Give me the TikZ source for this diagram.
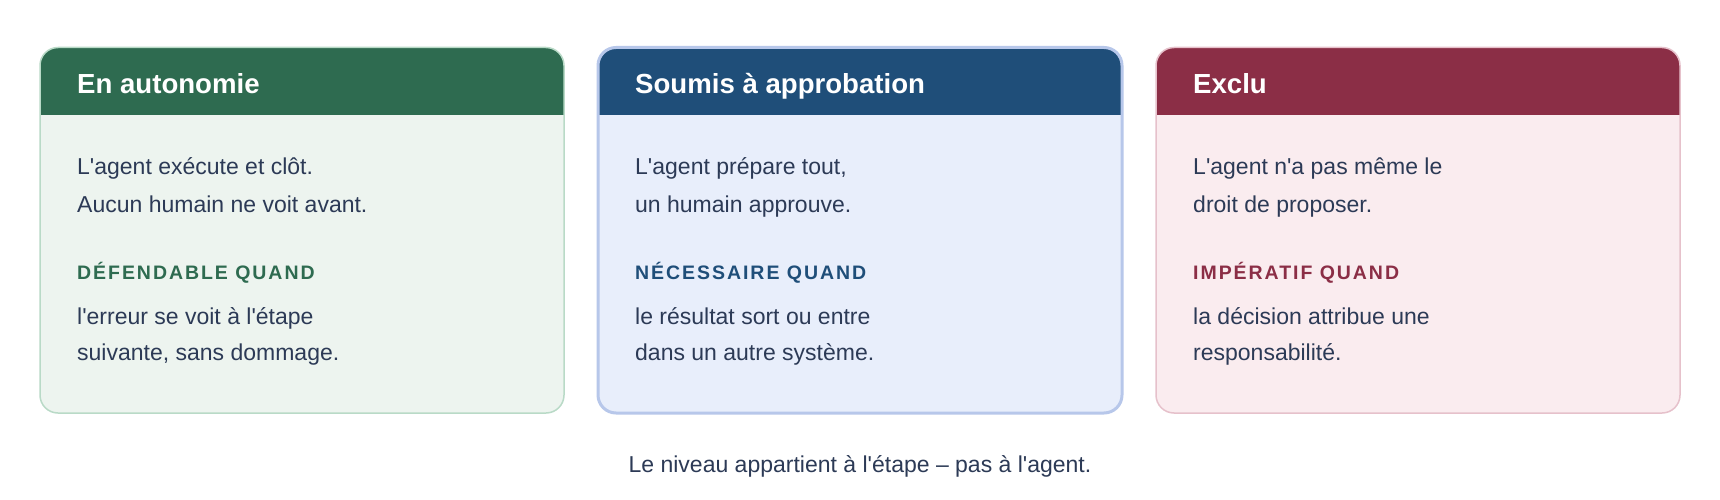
\documentclass[tikz,border=0pt]{standalone}
\usepackage{fontspec}
\setmainfont{Liberation Sans}[Ligatures=TeXOff]
\newfontfamily\labelfont[LetterSpace=10,Ligatures=TeXOff]{Liberation Sans}
\definecolor{txt}{HTML}{2C3A56}
\definecolor{ghead}{HTML}{2E6B50}
\definecolor{gfill}{HTML}{EDF4EF}
\definecolor{gline}{HTML}{B9DAC7}
\definecolor{bhead}{HTML}{1F4E79}
\definecolor{bfill}{HTML}{E8EEFB}
\definecolor{bline}{HTML}{B7C7EA}
\definecolor{rhead}{HTML}{8B2E46}
\definecolor{rfill}{HTML}{FAECEF}
\definecolor{rline}{HTML}{E6C1CB}
\tikzset{
  title/.style={anchor=base west, inner sep=0pt, text=white, font=\fontsize{27.6}{27.6}\selectfont\bfseries},
  body/.style={anchor=base west, inner sep=0pt, text=txt, font=\fontsize{23}{23}\selectfont},
  lbl/.style={anchor=base west, inner sep=0pt, font=\fontsize{19.5}{19.5}\selectfont\labelfont\bfseries},
  foot/.style={anchor=base, inner sep=0pt, text=txt, font=\fontsize{23}{23}\selectfont},
}
\newcommand{\drawcard}[5]{%
  \begin{scope}
    \clip[rounded corners=18pt] (#1,47.5) rectangle (#1+524,413);
    \fill[#2] (#1,47.5) rectangle (#1+524,413);
    \fill[#3] (#1,47.5) rectangle (#1+524,115);
  \end{scope}
  \draw[#4, line width=#5, rounded corners=18pt] (#1,47.5) rectangle (#1+524,413);
}
\begin{document}
\begin{tikzpicture}[x=1pt,y=-1pt]
\useasboundingbox (0,0) rectangle (1720,500);
\fill[white] (0,0) rectangle (1720,500);
% card 1
\drawcard{40}{gfill}{ghead}{gline}{1.5pt}
\node[title] (t1) at (77,93.3) {En autonomie};
\node[body] (a1) at (77,174.5) {L'agent exécute et clôt.};
\node[body] (b1) at (77,212) {Aucun humain ne voit avant.};
\node[lbl, text=ghead] (l1) at (77,279.5) {DÉFENDABLE QUAND};
\node[body] (c1) at (77,324.5) {l'erreur se voit à l'étape};
\node[body] (d1) at (77,360.5) {suivante, sans dommage.};
% card 2
\drawcard{598}{bfill}{bhead}{bline}{3pt}
\node[title] (t2) at (635,93.3) {Soumis à approbation};
\node[body] (a2) at (635,174.5) {L'agent prépare tout,};
\node[body] (b2) at (635,212) {un humain approuve.};
\node[lbl, text=bhead] (l2) at (635,279.5) {NÉCESSAIRE QUAND};
\node[body] (c2) at (635,324.5) {le résultat sort ou entre};
\node[body] (d2) at (635,360.5) {dans un autre système.};
% card 3
\drawcard{1156}{rfill}{rhead}{rline}{1.5pt}
\node[title] (t3) at (1193,93.3) {Exclu};
\node[body] (a3) at (1193,174.5) {L'agent n'a pas même le};
\node[body] (b3) at (1193,212) {droit de proposer.};
\node[lbl, text=rhead] (l3) at (1193,279.5) {IMPÉRATIF QUAND};
\node[body] (c3) at (1193,324.5) {la décision attribue une};
\node[body] (d3) at (1193,360.5) {responsabilité.};
% footer
\node[foot] (f) at (860,472) {Le niveau appartient à l'étape – pas à l'agent.};
\end{tikzpicture}
\end{document}
